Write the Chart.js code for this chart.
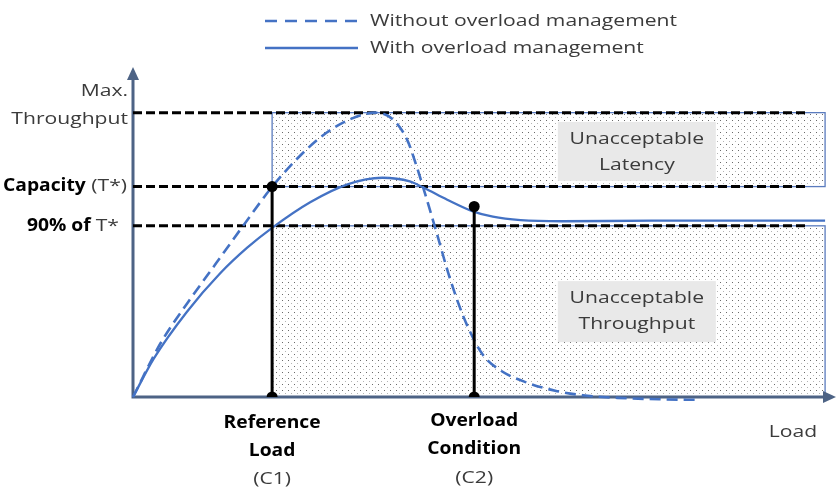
<!DOCTYPE html>
<html><head><meta charset="utf-8">
<script src="https://cdn.jsdelivr.net/npm/chart.js@4/dist/chart.umd.min.js"></script>
<style>html,body{margin:0;padding:0;background:#fff}#wrap{width:838px;height:488px}</style>
</head><body><div id="wrap"><canvas id="c" width="838" height="488"></canvas></div>
<script>
// ---- data ----
const seriesNames = ["Without overload management", "With overload management"];
const withoutLoad = [0, 4, 8, 12, 16, 20.1, 24, 28, 31.5, 35, 37.6, 39.6, 41, 41.9, 43.0, 44.2, 45.5, 47, 48.5, 50.5, 53, 57, 61, 65, 70, 76, 82];
const withoutThroughput = [0, 19, 33.5, 47, 60.5, 73.9, 84.5, 93, 97.8, 100, 97.5, 90.5, 81, 73.9, 65, 55, 44, 33, 24, 15, 9.5, 5, 2.2, 0.6, -0.3, -0.8, -1.0];
const withLoad = [0, 3, 7.8, 12.6, 16.5, 20.1, 25.6, 31, 36, 40, 42, 45.4, 49.1, 52, 56, 62, 75, 100];
const withThroughput = [0, 13.5, 30, 43.5, 52.5, 59.5, 68.5, 74.8, 77.1, 75.8, 73.6, 69.4, 65.3, 63.4, 62.2, 61.8, 62, 62];
const levelNames = ["Max. Throughput", "Capacity (T*)", "90% of T*"];
const levelValues = [100, 74, 60.2];
const conditionNames = ["Reference Load (C1)", "Overload Condition (C2)"];
const conditionLoads = [20.1, 49.3];
const conditionThroughputs = [74, 67];
const regionNames = ["Unacceptable Latency", "Unacceptable Throughput"];
const levelLineEnd = 97.6;
const regionEnd = 100;
const axisNames = ["Load"];

const BLUE = '#4472C4';
const AXIS = '#4D6385';
const FONT = '"Open Sans", "Liberation Sans", sans-serif';
const FS = 17;

function pts(xs, ys) { return xs.map((v, i) => ({x: v, y: ys[i]})); }

function makePattern() {
  const c = document.createElement('canvas');
  c.width = 6; c.height = 6;
  const g = c.getContext('2d');
  g.fillStyle = '#fff'; g.fillRect(0, 0, 6, 6);
  g.fillStyle = '#6a6a6a'; g.fillRect(0, 0, 1, 1);
  g.fillStyle = '#b4b4b4'; g.fillRect(3, 3, 1, 1);
  return c;
}

let SX = 1, SXB = 1;
function fontOf(b) { return (b ? 'bold ' : '') + FS + 'px ' + FONT; }
function drawParts(ctx, parts, x, y, align) {
  // parts: [text, bold, color]
  const widths = parts.map(p => { ctx.font = fontOf(p[1]); return ctx.measureText(p[0]).width * (p[1] ? SXB : SX); });
  const total = widths.reduce((a, b) => a + b, 0);
  let start = align === 'right' ? x - total : align === 'center' ? x - total / 2 : x;
  parts.forEach((p, i) => {
    ctx.save();
    ctx.font = fontOf(p[1]);
    ctx.fillStyle = p[2] || '#3b3b3b';
    ctx.textBaseline = 'middle';
    ctx.textAlign = 'left';
    ctx.translate(start, y);
    ctx.scale(p[1] ? SXB : SX, 1);
    ctx.fillText(p[0], 0, 0);
    ctx.restore();
    start += widths[i];
  });
}

const overlay = {
  id: 'overlay',
  beforeDatasetsDraw(chart) {
    const {ctx, scales: {x, y}} = chart;
    const X = v => x.getPixelForValue(v), Y = v => y.getPixelForValue(v);
    ctx.save();
    ctx.font = fontOf(false);
    SX = 307 / ctx.measureText(seriesNames[0]).width;
    ctx.font = fontOf(true);
    SXB = 97 / ctx.measureText("Reference").width;
    const pat = ctx.createPattern(makePattern(), 'repeat');
    const xl = X(conditionLoads[0]), xr = X(regionEnd);
    ctx.fillStyle = pat;
    ctx.fillRect(xl, Y(levelValues[0]), xr - xl, Y(levelValues[1]) - Y(levelValues[0]));
    ctx.fillRect(xl, Y(levelValues[2]), xr - xl, Y(0) - Y(levelValues[2]));
    ctx.strokeStyle = '#5A7BBE'; ctx.lineWidth = 1.3;
    ctx.strokeRect(xl, Y(levelValues[0]), xr - xl, Y(levelValues[1]) - Y(levelValues[0]));
    ctx.strokeRect(xl, Y(levelValues[2]), xr - xl, Y(0) - Y(levelValues[2]));
    // region label boxes
    const cx = X(72.8);
    ctx.fillStyle = '#E9E9E9';
    ctx.fillRect(cx - 79, Y(86.2) - 30, 158, 59);
    ctx.fillRect(cx - 79, Y(30.2) - 30, 158, 61);
    // axes
    const ca = chart.chartArea;
    ctx.strokeStyle = AXIS; ctx.fillStyle = AXIS; ctx.lineWidth = 3;
    ctx.beginPath();
    ctx.moveTo(X(0), Y(0)); ctx.lineTo(X(0), ca.top + 6);
    ctx.moveTo(X(0) - 1.5, Y(0)); ctx.lineTo(ca.right - 4, Y(0));
    ctx.stroke();
    ctx.beginPath();
    ctx.moveTo(X(0), ca.top - 3); ctx.lineTo(X(0) - 6, ca.top + 10); ctx.lineTo(X(0) + 6, ca.top + 10); ctx.closePath(); ctx.fill();
    ctx.beginPath();
    ctx.moveTo(ca.right + 4, Y(0)); ctx.lineTo(ca.right - 9, Y(0) - 6); ctx.lineTo(ca.right - 9, Y(0) + 6); ctx.closePath(); ctx.fill();
    ctx.restore();
  },
  afterDatasetsDraw(chart) {
    const {ctx, scales: {x, y}} = chart;
    const X = v => x.getPixelForValue(v), Y = v => y.getPixelForValue(v);
    ctx.save();
    // legend
    ctx.strokeStyle = BLUE; ctx.lineWidth = 2.5;
    ctx.setLineDash([12, 8]);
    ctx.beginPath(); ctx.moveTo(265, 21); ctx.lineTo(358, 21); ctx.stroke();
    ctx.setLineDash([]);
    ctx.beginPath(); ctx.moveTo(265, 48); ctx.lineTo(358, 48); ctx.stroke();
    drawParts(ctx, [[seriesNames[0], false]], 370, 21, 'left');
    drawParts(ctx, [[seriesNames[1], false]], 370, 48, 'left');
    // y labels
    drawParts(ctx, [["Max.", false]], 128, Y(levelValues[0]) - 21, 'right');
    drawParts(ctx, [["Throughput", false]], 128, Y(levelValues[0]) + 7, 'right');
    drawParts(ctx, [["Capacity", true, '#000'], [" (T*)", false]], 127, Y(levelValues[1]), 'right');
    drawParts(ctx, [["90% of ", true, '#000'], ["T*", false]], 119, Y(levelValues[2]), 'right');
    // x labels
    const r = X(conditionLoads[0]), o = X(conditionLoads[1]);
    drawParts(ctx, [["Reference", true, '#000']], r, 423, 'center');
    drawParts(ctx, [["Load", true, '#000']], r, 451, 'center');
    drawParts(ctx, [["(C1)", false]], r, 479, 'center');
    drawParts(ctx, [["Overload", true, '#000']], o, 421, 'center');
    drawParts(ctx, [["Condition", true, '#000']], o, 449, 'center');
    drawParts(ctx, [["(C2)", false]], o, 478, 'center');
    drawParts(ctx, [[axisNames[0], false]], 793, 432, 'center');
    // region labels
    const cx = X(72.8);
    drawParts(ctx, [["Unacceptable", false]], cx, Y(86.2) - 13, 'center');
    drawParts(ctx, [["Latency", false]], cx, Y(86.2) + 13, 'center');
    drawParts(ctx, [["Unacceptable", false]], cx, Y(30.2) - 13, 'center');
    drawParts(ctx, [["Throughput", false]], cx, Y(30.2) + 13, 'center');
    ctx.restore();
  }
};

const levelDatasets = levelValues.map((v, i) => ({
  label: levelNames[i],
  data: [{x: 0, y: v}, {x: levelLineEnd, y: v}],
  borderColor: '#000', borderWidth: 3, borderDash: [9, 4],
  pointRadius: 0, order: 3
}));
const conditionDatasets = conditionLoads.map((v, i) => ({
  label: conditionNames[i],
  data: [{x: v, y: 0}, {x: v, y: conditionThroughputs[i]}],
  borderColor: '#000', borderWidth: 3,
  pointRadius: 5.5, pointBackgroundColor: '#000', pointBorderWidth: 0,
  order: 1
}));

new Chart(document.getElementById('c'), {
  type: 'line',
  data: {
    datasets: [
      {label: seriesNames[0], data: pts(withoutLoad, withoutThroughput), borderColor: BLUE, borderWidth: 2.6,
       borderDash: [11, 6], cubicInterpolationMode: 'monotone', pointRadius: 0, order: 2, clip: false},
      {label: seriesNames[1], data: pts(withLoad, withThroughput), borderColor: BLUE, borderWidth: 2.3,
       cubicInterpolationMode: 'monotone', pointRadius: 0, order: 2, clip: false},
      ...levelDatasets,
      ...conditionDatasets
    ]
  },
  options: {
    responsive: false, animation: false,
    layout: {padding: {left: 133, right: 6, top: 70, bottom: 91}},
    plugins: {legend: {display: false}, tooltip: {enabled: false}},
    scales: {
      x: {type: 'linear', display: false, min: 0, max: 101},
      y: {type: 'linear', display: false, min: 0, max: 115}
    }
  },
  plugins: [overlay]
});
</script>
</body></html>
